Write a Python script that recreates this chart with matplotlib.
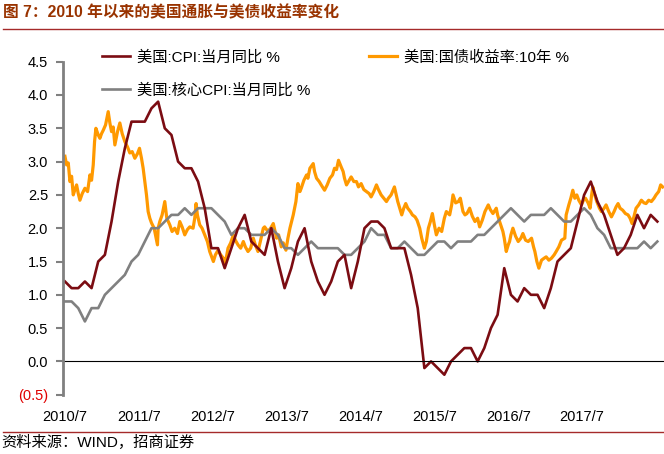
import numpy as np
import matplotlib.pyplot as plt
from matplotlib.lines import Line2D

plt.rcParams['font.family'] = ['Liberation Sans', 'Noto Sans CJK SC']

# 月度数据: 2010/7 ~ 2017/12
cpi = [1.2, 1.1, 1.1, 1.2, 1.1, 1.5,
       1.6, 2.1, 2.7, 3.2, 3.6, 3.6, 3.6, 3.8, 3.9, 3.5, 3.4, 3.0,
       2.9, 2.9, 2.7, 2.3, 1.7, 1.7, 1.4, 1.7, 2.0, 2.2, 1.8, 1.7,
       1.6, 2.0, 1.5, 1.1, 1.4, 1.8, 2.0, 1.5, 1.2, 1.0, 1.2, 1.5,
       1.6, 1.1, 1.5, 2.0, 2.1, 2.1, 2.0, 1.7, 1.7, 1.7, 1.3, 0.8,
       -0.1, 0.0, -0.1, -0.2, 0.0, 0.1, 0.2, 0.2, 0.0, 0.2, 0.5, 0.7,
       1.4, 1.0, 0.9, 1.1, 1.0, 1.0, 0.8, 1.1, 1.5, 1.6, 1.7, 2.1,
       2.5, 2.7, 2.4, 2.2, 1.9, 1.6, 1.7, 1.9, 2.2, 2.0, 2.2, 2.1]
core = [0.9, 0.9, 0.8, 0.6, 0.8, 0.8,
        1.0, 1.1, 1.2, 1.3, 1.5, 1.6, 1.8, 2.0, 2.0, 2.1, 2.2, 2.2,
        2.3, 2.2, 2.3, 2.3, 2.3, 2.2, 2.1, 1.9, 2.0, 2.0, 1.9, 1.9,
        1.9, 2.0, 1.9, 1.7, 1.7, 1.6, 1.7, 1.8, 1.7, 1.7, 1.7, 1.7,
        1.6, 1.6, 1.7, 1.8, 2.0, 1.9, 1.9, 1.7, 1.7, 1.8, 1.7, 1.6,
        1.6, 1.7, 1.8, 1.8, 1.7, 1.8, 1.8, 1.8, 1.9, 1.9, 2.0, 2.1,
        2.2, 2.3, 2.2, 2.1, 2.2, 2.2, 2.2, 2.3, 2.2, 2.1, 2.1, 2.2,
        2.3, 2.2, 2.0, 1.9, 1.7, 1.7, 1.7, 1.7, 1.7, 1.8, 1.7, 1.8]

# 10年期国债收益率 (自2010/7起的月份, 收益率)
yield_m = [0.0, 0.25, 0.5, 0.75, 1.0, 1.25, 1.5, 1.75, 2.0, 2.25, 2.6, 3.0, 3.4, 3.75, 4.0,
           4.25, 4.45, 4.65, 5.0, 5.25, 5.5, 5.75, 6.1, 6.5, 6.75, 7.0, 7.25, 7.5, 7.9, 8.25,
           8.6, 9.0, 9.4, 9.75, 10.1, 10.5, 10.9, 11.2, 11.5, 11.75, 12.0, 12.25, 12.5, 12.75, 13.0,
           13.4, 13.9, 14.0, 14.25, 14.6, 15.0, 15.3, 15.75, 16.1, 16.5, 16.9, 17.25, 17.6, 18.0, 18.4,
           18.75, 19.25, 19.5, 19.7, 19.9, 20.25, 20.6, 21.0, 21.4, 21.75, 22.0, 22.3, 22.6, 23.0, 23.4,
           23.8, 24.1, 24.5, 24.9, 25.3, 25.6, 26.0, 26.4, 26.8, 27.1, 27.5, 27.9, 28.3, 28.6, 29.0,
           29.4, 29.8, 30.0, 30.5, 30.9, 31.3, 31.8, 32.1, 32.5, 32.8, 33.2, 33.5, 33.8, 34.1, 34.3,
           34.5, 34.7, 35.0, 35.3, 35.5, 35.9, 36.3, 36.5, 36.8, 37.3, 37.5, 37.8, 38.2, 38.5, 39.0,
           39.4, 39.8, 40.2, 40.5, 40.8, 41.1, 41.5, 41.8, 42.0, 42.3, 42.7, 43.0, 43.4, 43.8, 44.1,
           44.5, 44.9, 45.3, 45.7, 46.0, 46.4, 46.8, 47.1, 47.5, 47.9, 48.3, 48.6, 49.0, 49.5, 50.0,
           50.3, 50.6, 50.9, 51.2, 51.5, 51.9, 52.2, 52.6, 52.9, 53.3, 53.6, 54.0, 54.3, 54.6, 54.9,
           55.2, 55.5, 55.8, 56.2, 56.6, 57.0, 57.3, 57.8, 58.1, 58.3, 58.7, 59.1, 59.4, 59.8, 60.1,
           60.4, 60.8, 61.2, 61.6, 62.0, 62.3, 62.7, 63.1, 63.6, 63.9, 64.3, 64.8, 65.0, 65.3, 65.8,
           66.0, 66.3, 66.6, 66.8, 67.0, 67.3, 67.7, 68.1, 68.5, 68.8, 69.2, 69.6, 70.1, 70.4, 70.6,
           70.9, 71.2, 71.6, 72.0, 72.3, 72.7, 73.1, 73.5, 73.8, 74.2, 74.6, 75.1, 75.3, 75.7, 76.0,
           76.3, 76.6, 76.9, 77.2, 77.6, 77.9, 78.2, 78.6, 78.9, 79.1, 79.3, 79.6, 79.9, 80.3, 80.6,
           81.0, 81.3, 81.7, 82.1, 82.5, 82.8, 83.1, 83.4, 83.8, 84.2, 84.6, 84.9, 85.2, 85.5, 85.8,
           86.2, 86.6, 87.0, 87.3, 87.7, 88.1, 88.5, 88.8, 89.2, 89.5, 89.8]
yield_v = [3.08, 2.95, 2.98, 2.70, 2.78, 2.50, 2.58, 2.65, 2.52, 2.42, 2.52, 2.60, 2.55, 2.80, 2.72,
           2.95, 3.30, 3.50, 3.40, 3.35, 3.42, 3.47, 3.55, 3.75, 3.58, 3.45, 3.52, 3.25, 3.45, 3.58,
           3.42, 3.30, 3.22, 3.13, 3.15, 3.05, 3.12, 3.20, 3.05, 2.90, 2.70, 2.50, 2.25, 2.15, 2.08,
           2.00, 1.75, 2.00, 2.10, 2.20, 2.40, 2.15, 2.05, 1.95, 2.00, 1.92, 2.10, 2.02, 1.90, 1.98,
           2.02, 2.00, 2.15, 2.37, 2.20, 2.05, 2.00, 1.90, 1.80, 1.65, 1.58, 1.50, 1.60, 1.67, 1.60,
           1.55, 1.48, 1.70, 1.78, 1.90, 1.82, 1.75, 1.70, 1.80, 1.72, 1.65, 1.70, 1.85, 1.75, 1.65,
           1.82, 2.00, 2.02, 1.95, 2.00, 2.07, 1.85, 1.90, 1.72, 1.78, 1.67, 1.85, 2.00, 2.12, 2.20,
           2.30, 2.40, 2.67, 2.55, 2.60, 2.72, 2.80, 2.75, 2.90, 2.97, 2.85, 2.75, 2.70, 2.65, 2.57,
           2.65, 2.75, 2.80, 2.90, 2.88, 3.02, 2.92, 2.85, 2.75, 2.65, 2.72, 2.77, 2.70, 2.70, 2.62,
           2.67, 2.58, 2.55, 2.52, 2.47, 2.55, 2.65, 2.58, 2.50, 2.45, 2.40, 2.45, 2.50, 2.62, 2.40,
           2.30, 2.20, 2.30, 2.37, 2.30, 2.25, 2.20, 2.17, 2.12, 2.00, 1.85, 1.70, 1.80, 2.00, 2.10,
           2.22, 2.05, 1.90, 2.00, 1.95, 2.15, 2.25, 2.20, 2.35, 2.50, 2.38, 2.40, 2.45, 2.25, 2.20,
           2.22, 2.30, 2.18, 2.10, 2.15, 2.02, 2.12, 2.25, 2.35, 2.28, 2.22, 2.30, 2.20, 2.10, 1.95,
           1.85, 1.65, 1.75, 1.80, 1.90, 2.00, 1.88, 1.80, 1.85, 1.92, 1.82, 1.80, 1.85, 1.72, 1.65,
           1.50, 1.40, 1.52, 1.55, 1.57, 1.52, 1.55, 1.60, 1.65, 1.72, 1.82, 1.85, 2.20, 2.35, 2.45,
           2.57, 2.45, 2.50, 2.42, 2.35, 2.42, 2.45, 2.38, 2.30, 2.48, 2.62, 2.50, 2.40, 2.30, 2.25,
           2.30, 2.35, 2.25, 2.17, 2.25, 2.32, 2.37, 2.30, 2.27, 2.22, 2.20, 2.15, 2.07, 2.18, 2.30,
           2.35, 2.42, 2.38, 2.37, 2.42, 2.40, 2.45, 2.50, 2.55, 2.65, 2.62]

x_labels = ['2010/7', '2011/7', '2012/7', '2013/7', '2014/7', '2015/7', '2016/7', '2017/7']
y_ticks = [-0.5, 0.0, 0.5, 1.0, 1.5, 2.0, 2.5, 3.0, 3.5, 4.0, 4.5]

fig = plt.figure(figsize=(6.64, 4.54), dpi=100)
ax = fig.add_axes([0.0953, 0.1306, 0.9047, 0.7335])

months = np.arange(len(cpi))
l_yield, = ax.plot(yield_m, yield_v, color='#FF9900', lw=2.3, label='美国:国债收益率:10年 %')
l_core, = ax.plot(months, core, color='#808080', lw=1.9, label='美国:核心CPI:当月同比 %')
l_cpi, = ax.plot(months, cpi, color='#7B0C12', lw=1.9, label='美国:CPI:当月同比 %')
ax.axhline(0, color='black', lw=0.8)

ax.set_xlim(-0.25, 90)
ax.set_ylim(-0.5, 4.5)
ax.set_xticks(np.arange(len(x_labels)) * 11.1, labels=x_labels)
ax.set_yticks(y_ticks, labels=['(%.1f)' % -v if v < 0 else '%.1f' % v for v in y_ticks])
ax.get_yticklabels()[0].set_color('#E00000')

for s in ['top', 'right', 'bottom']:
    ax.spines[s].set_visible(False)
ax.spines['left'].set_color('#808080')
ax.spines['left'].set_linewidth(2)
ax.tick_params(axis='y', direction='out', length=5, width=1.5, color='#808080', labelsize=10.5, pad=6)
ax.tick_params(axis='x', length=0, labelsize=10.5, pad=11)

ax.legend(handles=[l_cpi, l_core, l_yield], ncol=2, frameon=False, fontsize=11,
          loc='upper left', bbox_to_anchor=(0.133, 0.92), bbox_transform=fig.transFigure,
          handlelength=1.85, handletextpad=0.45, columnspacing=3.8, labelspacing=1.2)

# 标题、分隔线与来源
fig.text(0.004, 0.973, '图 7：2010 年以来的美国通胀与美债收益率变化', fontsize=11.3,
         weight='bold', color='#993300', va='center')
fig.add_artist(Line2D([0.005, 1], [0.937, 0.937], color='#A52A2A', lw=1))
fig.add_artist(Line2D([0.005, 1], [0.049, 0.049], color='#A52A2A', lw=1))
fig.text(0.002, 0.026, '资料来源：WIND，招商证券', fontsize=11, va='center')

fig.savefig('out.png', dpi=100)
